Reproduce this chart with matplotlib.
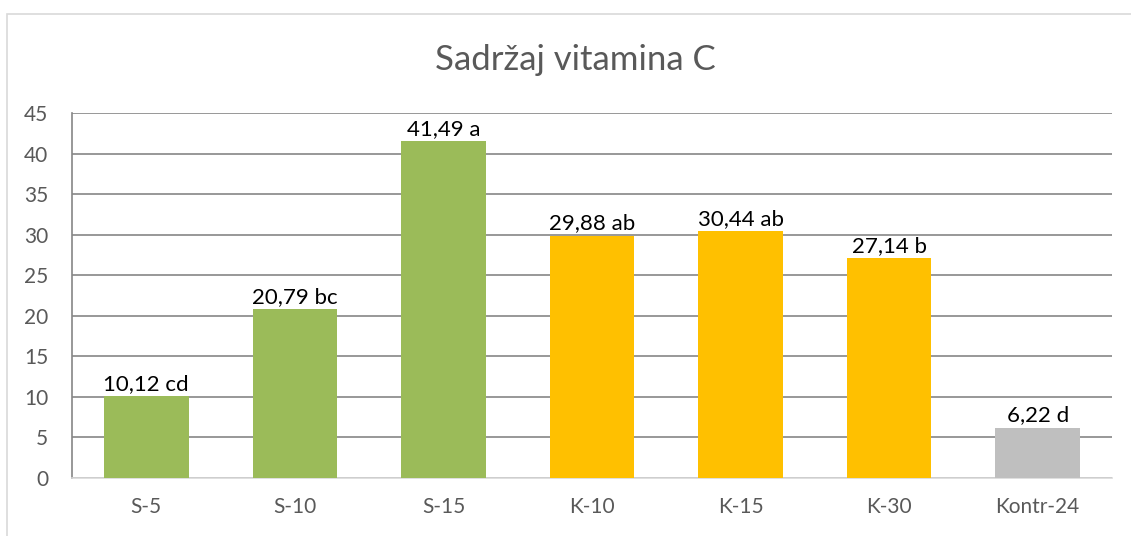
import matplotlib
matplotlib.use("Agg")
import matplotlib.pyplot as plt
from matplotlib.patches import Rectangle

categories = ["S-5", "S-10", "S-15", "K-10", "K-15", "K-30", "Kontr-24"]
values = [10.12, 20.79, 41.49, 29.88, 30.44, 27.14, 6.22]
labels = ["10,12 cd", "20,79 bc", "41,49 a", "29,88 ab", "30,44 ab", "27,14 b", "6,22 d"]
colors = ["#9BBB59", "#9BBB59", "#9BBB59", "#FFC000", "#FFC000", "#FFC000", "#BFBFBF"]
yticks = [0, 5, 10, 15, 20, 25, 30, 35, 40, 45]
title = "Sadržaj vitamina C"

plt.rcParams['font.family'] = ['Lato', 'DejaVu Sans']

W, H = 1131, 536
fig = plt.figure(figsize=(W / 100, H / 100), dpi=100)
fig.patches.append(Rectangle((7 / W, -0.1), 1.2, (1 - 14 / H) + 0.1,
                             transform=fig.transFigure, fill=False,
                             edgecolor="#D9D9D9", linewidth=1.2))

ax = fig.add_axes([72 / W, 1 - 478 / H, (1112 - 72) / W, (478 - 113) / H])
x = range(len(categories))
ax.bar(x, values, width=0.57, color=colors, zorder=3)
for i, (v, lab) in enumerate(zip(values, labels)):
    ax.annotate(lab, (i, v), xytext=(0, 1.5), textcoords="offset points",
                ha="center", va="bottom", fontsize=16, color="black", zorder=4)

ax.set_xlim(-0.5, len(categories) - 0.5)
ax.set_ylim(0, 45)
ax.set_yticks(yticks)
ax.set_xticks(list(x))
ax.set_xticklabels(categories)
ax.yaxis.grid(True, color="#868686", linewidth=1.2, zorder=0)
ax.set_axisbelow(True)
for s in ["top", "right"]:
    ax.spines[s].set_visible(False)
ax.spines["left"].set_color("#868686")
ax.spines["left"].set_linewidth(1.2)
ax.spines["bottom"].set_color("#D9D9D9")
ax.spines["bottom"].set_linewidth(1.2)
ax.tick_params(axis="both", length=0, labelsize=15, colors="#595959")
ax.tick_params(axis="x", pad=14)
ax.tick_params(axis="y", pad=17)

fig.text(575 / W, 1 - 60 / H, title, ha="center", va="center",
         fontsize=25, color="#595959")

fig.savefig("out.png", dpi=100)
